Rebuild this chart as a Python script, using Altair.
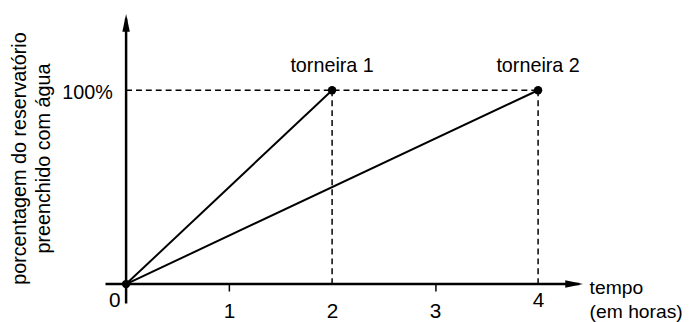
import altair as alt
import pandas as pd

# ---- chart values ----
series = ["torneira 1", "torneira 2"]
hours_full = [2, 4]          # hours each tap needs to fill the tank
pct_full = [100, 100]        # percentage filled at that time
x_ticks = [0, 1, 2, 3, 4]
y_ticks = [100]
x_title = "tempo\n(em horas)"
y_title = ["porcentagem do reservatório", "preenchido com água"]

FONT = "Liberation Sans"
FS = 20
TICK_FS = 21
XT_FS = 19.5
X_DOMAIN = [0, 4.5]
Y_DOMAIN = [0, 130]

xs = alt.Scale(domain=X_DOMAIN, nice=False, zero=False)
ys = alt.Scale(domain=Y_DOMAIN, nice=False, zero=False)

# line segments from origin to the "full" point of each tap
line_rows = []
for s, h, p in zip(series, hours_full, pct_full):
    line_rows.append({"serie": s, "t": 0, "pct": 0, "o": 0})
    line_rows.append({"serie": s, "t": h, "pct": p, "o": 1})
lines_df = pd.DataFrame(line_rows)

end_df = pd.DataFrame({"serie": series, "t": hours_full, "pct": pct_full})
pts_df = pd.DataFrame({"t": [0] + hours_full, "pct": [0] + pct_full})

# dashed guides
vguide_df = pd.DataFrame({"t": hours_full, "y0": [0] * len(hours_full), "pct": pct_full})
hguide_df = pd.DataFrame({"t0": [0], "t": [max(hours_full)], "pct": [max(pct_full)]})

# axis lines (with extensions beyond the origin) and arrow heads
x_axis_df = pd.DataFrame({"a": [-0.2], "b": [4.40], "y": [0]})
y_axis_df = pd.DataFrame({"x": [0], "a": [-10], "b": [137]})
x_arrow_df = pd.DataFrame({"t": [4.35], "pct": [0]})
y_arrow_df = pd.DataFrame({"t": [0], "pct": [134.8]})
x_title_df = pd.DataFrame({"t": [4.5], "pct": [-5.3], "txt": [x_title]})

ax_x = alt.Axis(
    values=x_ticks, domain=False, grid=False, title=None, format="d",
    tickSize=7, tickColor="black", tickWidth=1.5,
    tickOpacity={"condition": {"test": "datum.value == 1 || datum.value == 3", "value": 1}, "value": 0},
    labelFont=FONT, labelFontSize=TICK_FS, labelColor="black", labelBaseline="top",
    labelOverlap=False, labelFlush=False,
    labelPadding={"condition": {"test": "datum.value == 0 || datum.value == 4", "value": -1}, "value": 9.5},
    labelAlign={"condition": {"test": "datum.value == 0", "value": "right"}, "value": "center"},
    labelOffset={"condition": {"test": "datum.value == 0", "value": -6}, "value": 0},
)
ax_y = alt.Axis(
    values=y_ticks, domain=False, grid=False, ticks=False,
    labelExpr="datum.value + '%'", labelFont=FONT, labelFontSize=FS,
    labelColor="black", labelPadding=14, labelOffset=2,
    title=y_title, titleFont=FONT, titleFontSize=FS, titleFontWeight="normal",
    titleColor="black", titlePadding=8, titleLineHeight=25,
)


def X(field):
    return alt.X(field, type="quantitative", scale=xs, axis=ax_x)


def Y(field):
    return alt.Y(field, type="quantitative", scale=ys, axis=ax_y)


lines = alt.Chart(lines_df).mark_line(color="black", strokeWidth=2).encode(
    x=X("t"), y=Y("pct"), detail="serie:N", order="o:Q",
)

vguides = alt.Chart(vguide_df).mark_rule(color="black", strokeWidth=1.5, strokeDash=[6, 4]).encode(
    x=X("t"), y=Y("y0"), y2="pct:Q",
)
hguide = alt.Chart(hguide_df).mark_rule(color="black", strokeWidth=1.5, strokeDash=[6, 4]).encode(
    x=X("t0"), x2="t:Q", y=Y("pct"),
)

x_axis_line = alt.Chart(x_axis_df).mark_rule(color="black", strokeWidth=2.5).encode(
    x=X("a"), x2="b:Q", y=Y("y"),
)
y_axis_line = alt.Chart(y_axis_df).mark_rule(color="black", strokeWidth=2.5).encode(
    x=X("x"), y=Y("a"), y2="b:Q",
)
x_arrow = alt.Chart(x_arrow_df).mark_point(
    shape="M1,0L-1,-0.42L-1,0.42Z", size=324, filled=True, color="black", opacity=1
).encode(x=X("t"), y=Y("pct"))
y_arrow = alt.Chart(y_arrow_df).mark_point(
    shape="M0,-1L-0.42,1L0.42,1Z", size=324, filled=True, color="black", opacity=1
).encode(x=X("t"), y=Y("pct"))

points = alt.Chart(pts_df).mark_point(filled=True, size=72, color="black", opacity=1).encode(
    x=X("t"), y=Y("pct")
)

labels = alt.Chart(end_df).mark_text(
    font=FONT, fontSize=FS, color="black", align="center", baseline="alphabetic", dy=-18
).encode(x=X("t"), y=Y("pct"), text="serie:N")

x_title_txt = alt.Chart(x_title_df).mark_text(
    font=FONT, fontSize=XT_FS, color="black", align="left", baseline="alphabetic",
    lineBreak="\n", lineHeight=24,
).encode(x=X("t"), y=Y("pct"), text="txt:N")

chart = alt.layer(
    hguide, vguides, lines, x_axis_line, y_axis_line, x_arrow, y_arrow,
    points, labels, x_title_txt,
).properties(
    width=469, height=255,
    padding={"left": 119.5, "top": 22.5, "right": 93.5, "bottom": 36.5},
    autosize=alt.AutoSizeParams(type="none"),
    background="white",
).configure_view(stroke=None)

chart.save("out.html", embed_options={"renderer": "svg", "actions": False})
